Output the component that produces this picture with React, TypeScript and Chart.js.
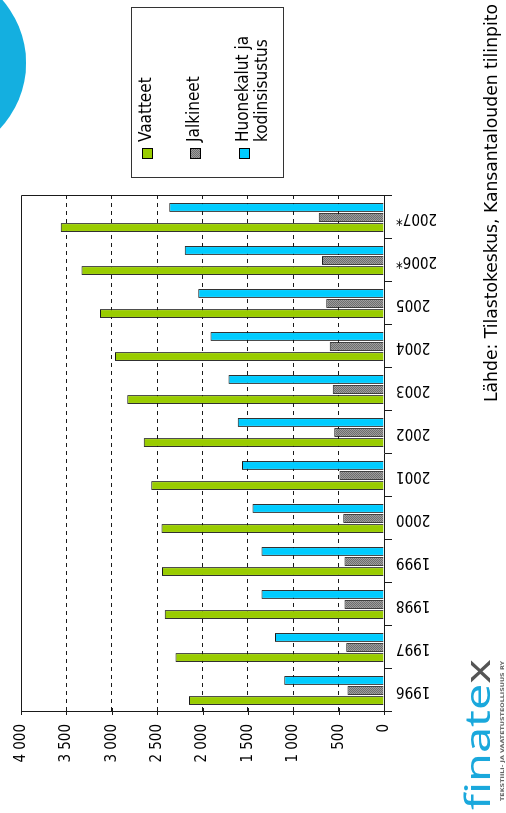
import React, { useEffect, useRef } from "react";
import { Chart, registerables } from "chart.js";
Chart.register(...registerables);

// ---- data ----
const categories = ["1996", "1997", "1998", "1999", "2000", "2001", "2002", "2003", "2004", "2005", "2006*", "2007*"];
const vaatteet = [2148, 2298, 2415, 2445, 2452, 2564, 2648, 2830, 2965, 3129, 3333, 3563];
const jalkineet = [401, 416, 434, 434, 449, 489, 547, 565, 598, 635, 682, 719];
const huonekalut = [1098, 1200, 1349, 1349, 1448, 1565, 1612, 1714, 1911, 2046, 2196, 2367];
const seriesLabels = ["Vaatteet", "Jalkineet", "Huonekalut ja kodinsisustus"];
const legendLines = [["Vaatteet"], ["Jalkineet"], ["Huonekalut ja", "kodinsisustus"]];
const valueTicks = [0, 500, 1000, 1500, 2000, 2500, 3000, 3500, 4000];
const valueTickLabels = ["0", "500", "1 000", "1 500", "2 000", "2 500", "3 000", "3 500", "4 000"];
const sourceText = "Lähde: Tilastokeskus, Kansantalouden tilinpito";
const logoCyanPart = "finate";
const logoGreyPart = "x";
const logoTagline = "TEKSTIILI- JA VAATETUSTEOLLISUUS RY";

const FONT = '"DejaVu Sans Condensed", "Liberation Sans", sans-serif';
const GREEN = "#99cc00";
const BLUE = "#00ccff";

function makeGreyPattern(): CanvasPattern | string {
  const c = document.createElement("canvas");
  c.width = 2;
  c.height = 2;
  const g = c.getContext("2d");
  if (!g) return "#888888";
  g.fillStyle = "#9c9c9c";
  g.fillRect(0, 0, 2, 2);
  g.fillStyle = "#6e6e6e";
  g.fillRect(0, 0, 1, 1);
  g.fillRect(1, 1, 1, 1);
  return g.createPattern(c, "repeat") || "#888888";
}

function fitText(ctx: CanvasRenderingContext2D, text: string, x: number, y: number, width: number) {
  const w = ctx.measureText(text).width;
  ctx.save();
  ctx.translate(x, y);
  ctx.scale(width / w, 1);
  ctx.fillText(text, 0, 0);
  ctx.restore();
}

const decorPlugin = {
  id: "decor",
  beforeDraw(chart: any) {
    const ctx: CanvasRenderingContext2D = chart.ctx;
    ctx.save();
    ctx.fillStyle = "#ffffff";
    ctx.fillRect(0, 0, chart.width, chart.height);
    // decorative circle (top-left of the rotated page)
    ctx.fillStyle = "#14afe0";
    ctx.beginPath();
    ctx.arc(750, -70, 96, 0, Math.PI * 2);
    ctx.fill();
    ctx.restore();
  },
  afterDraw(chart: any) {
    const ctx: CanvasRenderingContext2D = chart.ctx;
    const area = chart.chartArea;
    const yScale = chart.scales.y;
    ctx.save();
    // plot frame (top and right)
    ctx.strokeStyle = "#1a1a1a";
    ctx.lineWidth = 1;
    const top = Math.round(area.top) + 0.5;
    const right = Math.round(area.right) + 0.5;
    ctx.beginPath();
    ctx.moveTo(Math.round(area.left), top);
    ctx.lineTo(right, top);
    ctx.lineTo(right, Math.round(area.bottom));
    ctx.stroke();
    // tick marks crossing the value axis
    const ax = Math.round(area.left);
    yScale.ticks.forEach((t: any) => {
      const py = Math.round(yScale.getPixelForValue(t.value)) + 0.5;
      ctx.beginPath();
      ctx.moveTo(ax - 3, py);
      ctx.lineTo(ax + 4, py);
      ctx.stroke();
    });

    // legend
    const lx = 635.5, ly = 131.5, lw = 170, lh = 152;
    ctx.strokeStyle = "#333333";
    ctx.strokeRect(lx, ly, lw, lh);
    const rowCenters = [147, 195, 244];
    const colors: (string | CanvasPattern)[] = [GREEN, chart.data.datasets[1].backgroundColor, BLUE];
    ctx.font = `17px ${FONT}`;
    ctx.fillStyle = "#000";
    ctx.textBaseline = "middle";
    ctx.textAlign = "left";
    legendLines.forEach((lines, i) => {
      const cy = rowCenters[i];
      ctx.fillStyle = colors[i] as any;
      ctx.fillRect(654, cy - 5, 10, 10);
      ctx.strokeStyle = "#000";
      ctx.strokeRect(654.5, cy - 4.5, 10, 10);
      ctx.fillStyle = "#000";
      lines.forEach((ln, j) => {
        ctx.fillText(ln, 671, cy + j * 19);
      });
    });

    // source text
    ctx.font = `18px ${FONT}`;
    ctx.textBaseline = "alphabetic";
    ctx.fillStyle = "#000";
    fitText(ctx, sourceText, 411, 497, 398);

    // logo
    ctx.font = `34px "Noto Sans", sans-serif`;
    const wCyan = ctx.measureText(logoCyanPart).width;
    const wAll = ctx.measureText(logoCyanPart + logoGreyPart).width;
    const sx = 150 / wAll;
    ctx.save();
    ctx.translate(3, 490);
    ctx.scale(sx, 1);
    ctx.fillStyle = "#1aa8dc";
    ctx.fillText(logoCyanPart, 0, 0);
    ctx.fillStyle = "#555555";
    ctx.fillText(logoGreyPart, wCyan, 0);
    ctx.restore();
    ctx.font = `bold 5px ${FONT}`;
    ctx.fillStyle = "#666666";
    fitText(ctx, logoTagline, 12, 504, 140);
    ctx.restore();
  },
};

export default function App() {
  const ref = useRef<HTMLCanvasElement>(null);
  useEffect(() => {
    if (!ref.current) return;
    const grey = makeGreyPattern();
    const chart = new Chart(ref.current, {
      type: "bar",
      data: {
        labels: categories,
        datasets: [
          { label: seriesLabels[0], data: vaatteet, backgroundColor: GREEN, borderColor: "#1a1a1a", borderWidth: 1 },
          { label: seriesLabels[1], data: jalkineet, backgroundColor: grey as any, borderColor: "#1a1a1a", borderWidth: 1 },
          { label: seriesLabels[2], data: huonekalut, backgroundColor: BLUE, borderColor: "#1a1a1a", borderWidth: 1 },
        ],
      },
      options: {
        responsive: false,
        maintainAspectRatio: false,
        animation: false,
        devicePixelRatio: 1,
        layout: { padding: { left: 0, top: 18, right: 196, bottom: 0 } },
        datasets: { bar: { categoryPercentage: 0.7, barPercentage: 0.88 } },
        plugins: { legend: { display: false }, tooltip: { enabled: false }, title: { display: false } },
        scales: {
          x: {
            type: "category",
            offset: true,
            grid: { display: true, drawOnChartArea: false, drawTicks: true, tickLength: 8, color: "#1a1a1a", offset: true },
            border: { display: true, color: "#1a1a1a", width: 1 },
            ticks: { minRotation: 90, maxRotation: 90, autoSkip: false, padding: 4, color: "#000", font: { family: FONT, size: 15 } },
            afterFit: (s: any) => { s.height = 122; },
          },
          y: {
            min: 0,
            max: 4000,
            afterBuildTicks: (s: any) => { s.ticks = valueTicks.map((v) => ({ value: v })); },
            ticks: {
              padding: 12,
              color: "#000",
              font: { family: FONT, size: 15 },
              callback: (_v: any, i: number) => valueTickLabels[i],
            },
            grid: {
              drawTicks: false,
              color: (c: any) => (c.tick && c.tick.value === 0 ? "rgba(0,0,0,0)" : "#1a1a1a"),
              lineWidth: 1,
            },
            border: { display: true, color: "#1a1a1a", width: 1, dash: [4, 4] },
            afterFit: (s: any) => { s.width = 101; },
          },
        },
      },
      plugins: [decorPlugin],
    });
    return () => chart.destroy();
  }, []);
  return (
    <div style={{ position: "fixed", left: 0, top: 0, width: 506, height: 813, overflow: "hidden", background: "#fff" }}>
      <div
        style={{
          position: "absolute",
          left: 0,
          top: 0,
          width: 813,
          height: 506,
          transformOrigin: "0 0",
          transform: "translate(0px, 813px) rotate(-90deg)",
        }}
      >
        <canvas ref={ref} width={813} height={506} style={{ display: "block", width: 813, height: 506 }} />
      </div>
    </div>
  );
}
